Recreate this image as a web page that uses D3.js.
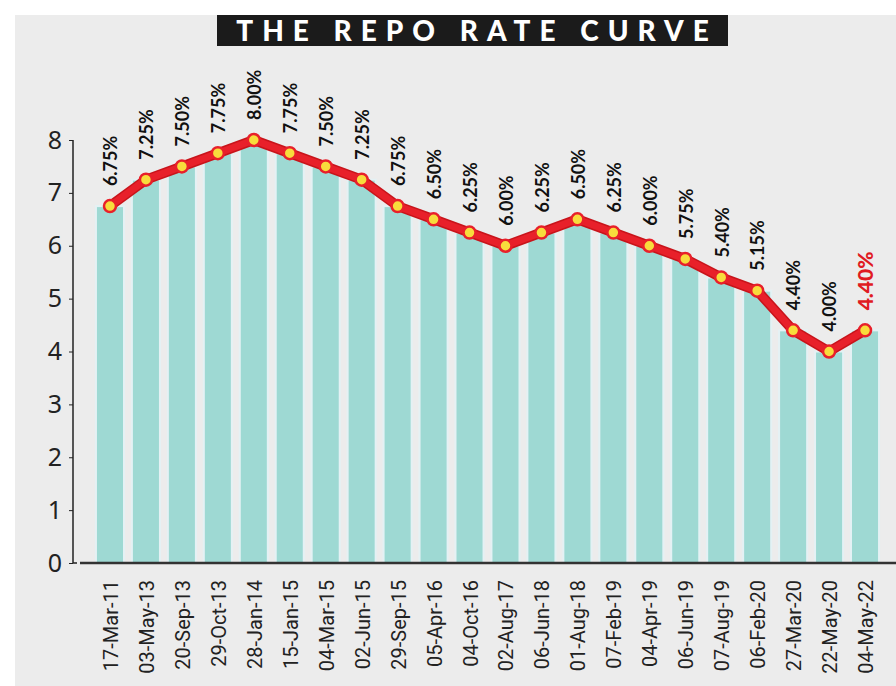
<!DOCTYPE html>
<html>
<head>
<meta charset="utf-8">
<script src="https://cdnjs.cloudflare.com/ajax/libs/d3/7.8.5/d3.min.js"></script>
<style>
  html, body { margin: 0; padding: 0; background: #fff; }
  svg { display: block; }
</style>
</head>
<body>
<div id="chart"></div>
<script>
var dates = ["17-Mar-11", "03-May-13", "20-Sep-13", "29-Oct-13", "28-Jan-14", "15-Jan-15",
  "04-Mar-15", "02-Jun-15", "29-Sep-15", "05-Apr-16", "04-Oct-16", "02-Aug-17",
  "06-Jun-18", "01-Aug-18", "07-Feb-19", "04-Apr-19", "06-Jun-19", "07-Aug-19",
  "06-Feb-20", "27-Mar-20", "22-May-20", "04-May-22"];
var rates = [6.75, 7.25, 7.50, 7.75, 8.00, 7.75, 7.50, 7.25, 6.75, 6.50, 6.25,
  6.00, 6.25, 6.50, 6.25, 6.00, 5.75, 5.40, 5.15, 4.40, 4.00, 4.40];
var yTicks = [0, 1, 2, 3, 4, 5, 6, 7, 8];
var title = "THE REPO RATE CURVE";

var width = 896, height = 686;

var data = dates.map(function(d, i) {
  return { date: d, rate: rates[i] };
});

var svg = d3.select("#chart")
  .append("svg")
  .attr("width", width)
  .attr("height", height);

// panel background
svg.append("rect")
  .attr("x", 15).attr("y", 15)
  .attr("width", width - 15).attr("height", height - 15)
  .attr("fill", "#ececec");

// title box
svg.append("rect")
  .attr("x", 217).attr("y", 15)
  .attr("width", 511).attr("height", 31)
  .attr("fill", "#1b1b1b");
svg.append("text")
  .attr("x", 477).attr("y", 41)
  .attr("text-anchor", "middle")
  .attr("fill", "#fff")
  .attr("font-family", "Lato, 'Open Sans', sans-serif")
  .attr("font-weight", 900)
  .attr("font-size", 28)
  .attr("letter-spacing", 9)
  .text(title);

var x = d3.scaleBand()
  .domain(dates)
  .range([92, 883])
  .paddingInner(0.22)
  .paddingOuter(0.11);

var y = d3.scaleLinear()
  .domain([0, 8])
  .range([563, 140]);

// bars
svg.append("g")
  .selectAll("rect")
  .data(data)
  .join("rect")
  .attr("x", function(d) { return x(d.date); })
  .attr("y", function(d) { return y(d.rate); })
  .attr("width", x.bandwidth())
  .attr("height", function(d) { return y(0) - y(d.rate); })
  .attr("fill", "#9ed9d3")
  .attr("stroke", "#e4f1f4")
  .attr("stroke-width", 2);

// y axis
var yAxis = svg.append("g")
  .attr("transform", "translate(73,0)")
  .call(d3.axisLeft(y).tickValues(yTicks).tickSize(4).tickFormat(d3.format("d")));
yAxis.select(".domain")
  .attr("d", "M0," + y(8) + "V" + y(0) + "H4")
  .attr("stroke", "#222").attr("stroke-width", 1.5);
yAxis.selectAll(".tick line").attr("stroke", "#222");
yAxis.selectAll(".tick text")
  .attr("x", -11)
  .attr("font-family", "'Noto Sans', sans-serif")
  .attr("font-size", 25)
  .attr("fill", "#222");

// x axis
var xAxis = svg.append("g")
  .attr("transform", "translate(0," + y(0) + ")")
  .call(d3.axisBottom(x).tickSize(0));
xAxis.select(".domain")
  .attr("d", "M80,0H" + width)
  .attr("stroke", "#333").attr("stroke-width", 2.5);
xAxis.selectAll(".tick text")
  .attr("transform", "rotate(-90)")
  .attr("text-anchor", "end")
  .attr("x", -17).attr("y", 1).attr("dy", "0.35em")
  .attr("font-family", "'Liberation Sans Narrow', Roboto, sans-serif")
  .attr("font-size", 20)
  .attr("fill", "#222");

var cx = function(d) { return x(d.date) + x.bandwidth() / 2; };
var cy = function(d) { return y(d.rate); };

// rate line
var line = d3.line().x(cx).y(cy);

svg.append("path")
  .datum(data)
  .attr("d", line)
  .attr("fill", "none")
  .attr("stroke", "#c8141b")
  .attr("stroke-width", 10)
  .attr("stroke-linejoin", "round");
svg.append("path")
  .datum(data)
  .attr("d", line)
  .attr("fill", "none")
  .attr("stroke", "#e8202a")
  .attr("stroke-width", 7)
  .attr("stroke-linejoin", "round");

svg.append("g")
  .selectAll("circle")
  .data(data)
  .join("circle")
  .attr("cx", cx)
  .attr("cy", cy)
  .attr("r", 6)
  .attr("fill", "#f8dc3c")
  .attr("stroke", "#e8202a")
  .attr("stroke-width", 2.5);

// value labels, written upwards; the latest one in red
var last = data.length - 1;
var labels = svg.append("g").attr("class", "labels");
data.forEach(function(d, i) {
  var g = labels.append("g")
    .attr("transform", "translate(" + (cx(d) + 1) + "," + (cy(d) - 20) + ")");
  g.append("text")
    .attr("transform", "rotate(-90)")
    .attr("x", 0).attr("y", 0)
    .attr("dy", "0.35em")
    .attr("text-anchor", "start")
    .attr("font-family", "Lato, 'Open Sans', sans-serif")
    .attr("font-weight", i === last ? 900 : 700)
    .attr("font-size", i === last ? 21 : 18)
    .attr("fill", i === last ? "#e01b22" : "#111")
    .text(d.rate.toFixed(2) + "%");
});
</script>
</body>
</html>
